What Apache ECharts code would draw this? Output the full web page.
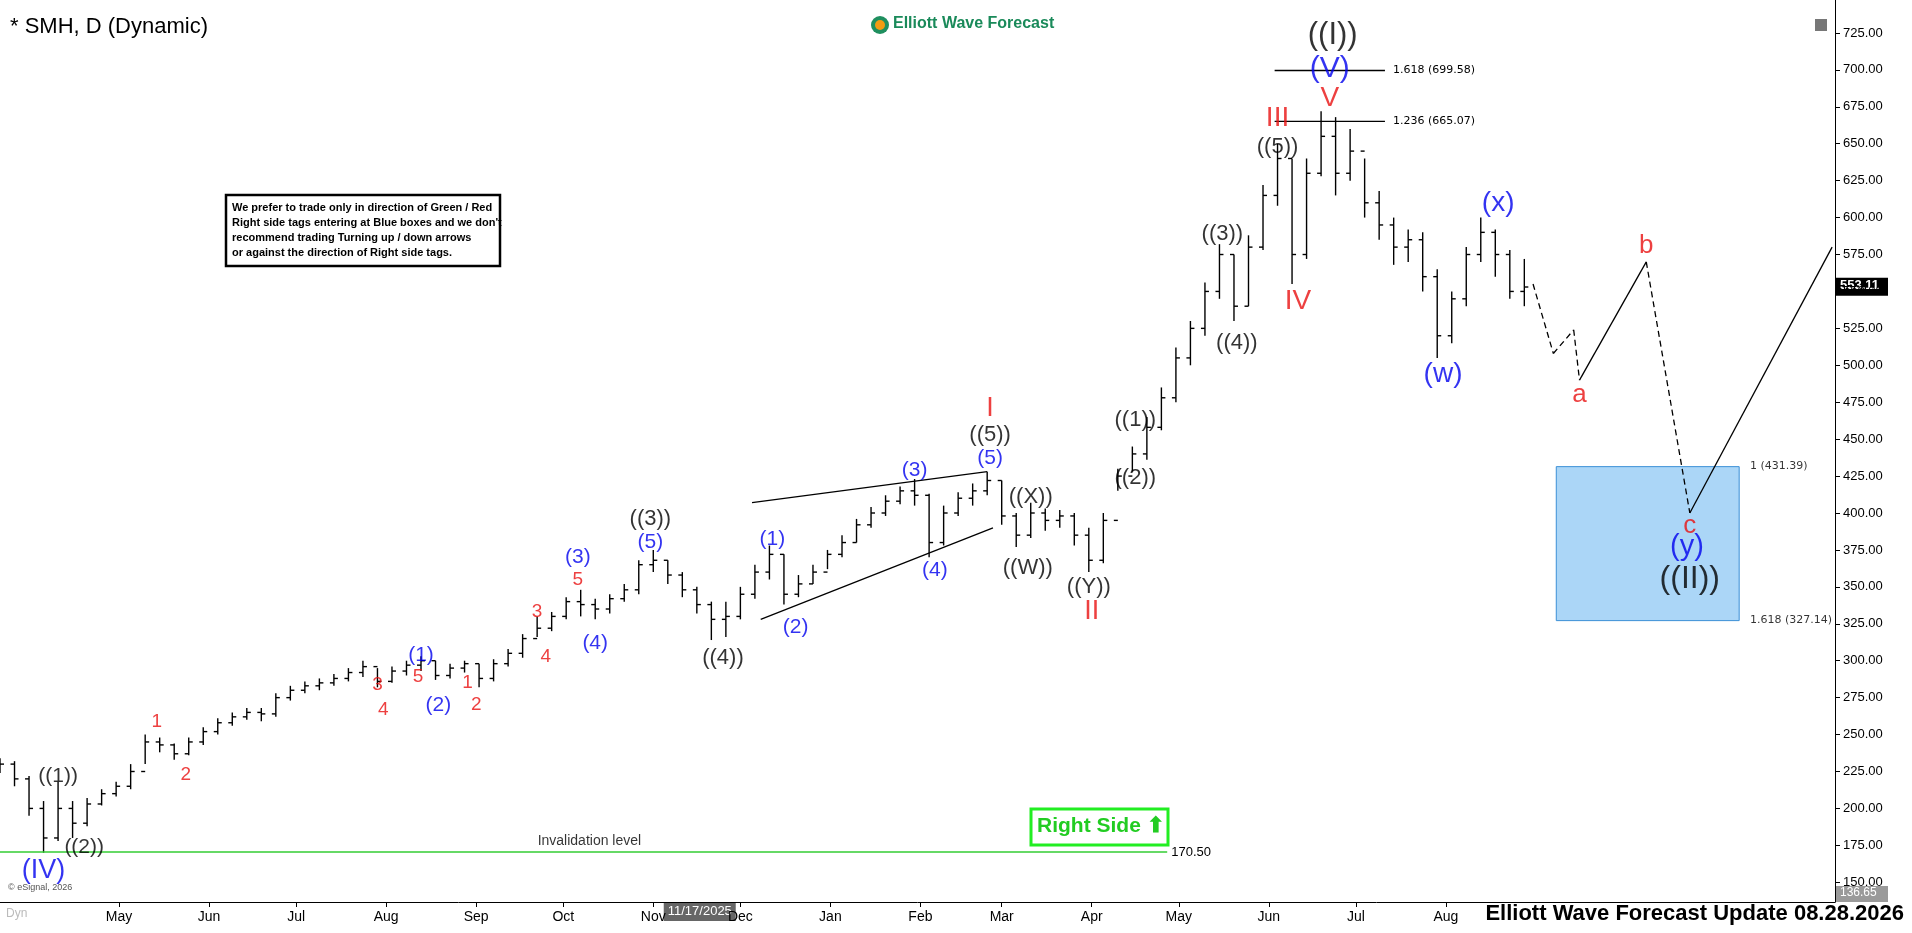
<!DOCTYPE html>
<html>
<head>
<meta charset="utf-8">
<script src="https://cdn.jsdelivr.net/npm/echarts@6/dist/echarts.min.js"></script>
<style>html,body{margin:0;padding:0;background:#fff}#chart{width:1912px;height:933px}</style>
</head>
<body>
<div id="chart"></div>
<script>
// bars every 5 days starting 2025-03-21
var startDate = '2025-03-21';
var closes = [230,220,200,180,200,190,203,210,215,225,
  245,243,237,245,252,258,262,265,264,275,
  280,283,285,288,292,296,286,293,297,300,
  290,295,298,288,298,305,315,322,330,340,
  338,335,342,348,365,368,358,348,338,328,
  330,345,360,372,345,352,360,372,380,392,
  400,408,415,412,380,400,410,415,422,398,
  385,400,395,398,385,368,395,425,440,458,
  478,505,525,550,575,540,580,615,640,575,
  630,655,630,645,610,595,580,585,560,520,
  545,575,590,575,550,553];
var highs = [234,232,222,205,218,205,207,213,218,230,
  250,248,244,248,255,261,265,268,268,278,
  283,286,288,291,295,300,295,296,300,303,
  300,298,300,298,301,308,318,330,333,343,
  348,342,345,352,368,375,368,360,350,340,
  340,350,365,378,372,358,365,375,385,396,
  404,412,418,423,413,405,414,420,428,422,
  400,407,403,402,400,390,400,430,445,465,
  485,512,530,556,582,575,588,622,650,640,
  640,672,668,660,640,618,600,592,590,565,
  550,580,600,592,578,572];
var lows = [224,215,195,170,178,180,188,202,208,213,
  230,238,233,236,243,250,256,260,259,262,
  273,278,280,283,286,289,282,285,290,293,
  287,288,292,282,286,296,302,316,320,328,
  330,328,332,340,345,360,352,343,332,314,
  316,328,342,355,338,343,352,362,370,380,
  390,398,406,405,370,378,398,405,412,392,
  377,383,388,390,378,360,366,415,428,436,
  456,475,500,520,545,530,540,578,608,555,
  572,628,615,625,600,585,568,570,550,505,
  515,540,570,560,545,540];
var lastPrice = 553.11;
var lowPrice = 136.65;
var yTicks = [150,175,200,225,250,275,300,325,350,375,400,425,450,475,500,525,550,575,600,625,650,675,700,725];
var monthTicks = ['2025-05-01','2025-06-01','2025-07-01','2025-08-01','2025-09-01','2025-10-01','2025-11-01','2025-12-01',
  '2026-01-01','2026-02-01','2026-03-01','2026-04-01','2026-05-01','2026-06-01','2026-07-01','2026-08-01'];
var monthNames = ['Jan','Feb','Mar','Apr','May','Jun','Jul','Aug','Sep','Oct','Nov','Dec'];

var BLK = '#000', BLU = '#0000ee', RED = '#e81010';
// [date, value, text, colour, size]
var waveLabels = [
  ['2025-04-05',158,'(IV)',BLU,27],
  ['2025-04-10',222,'((1))',BLK,21],
  ['2025-04-19',174,'((2))',BLK,21],
  ['2025-05-14',259,'1',RED,19],
  ['2025-05-24',223,'2',RED,19],
  ['2025-07-29',284,'3',RED,19],
  ['2025-07-31',267,'4',RED,19],
  ['2025-08-12',289,'5',RED,19],
  ['2025-08-13',304,'(1)',BLU,21],
  ['2025-08-19',270,'(2)',BLU,21],
  ['2025-08-29',285,'1',RED,19],
  ['2025-09-01',270,'2',RED,19],
  ['2025-09-22',333,'3',RED,19],
  ['2025-09-25',303,'4',RED,19],
  ['2025-10-06',355,'5',RED,19],
  ['2025-10-06',370,'(3)',BLU,21],
  ['2025-10-12',312,'(4)',BLU,21],
  ['2025-10-31',380,'(5)',BLU,21],
  ['2025-10-31',396,'((3))',BLK,22],
  ['2025-11-25',302,'((4))',BLK,22],
  ['2025-12-12',382,'(1)',BLU,21],
  ['2025-12-20',323,'(2)',BLU,21],
  ['2026-01-30',429,'(3)',BLU,21],
  ['2026-02-06',361,'(4)',BLU,21],
  ['2026-02-25',437,'(5)',BLU,21],
  ['2026-02-25',453,'((5))',BLK,22],
  ['2026-02-25',471,'I',RED,27],
  ['2026-03-11',411,'((X))',BLK,22],
  ['2026-03-10',363,'((W))',BLK,22],
  ['2026-03-31',350,'((Y))',BLK,22],
  ['2026-04-01',333,'II',RED,27],
  ['2026-04-16',463,'((1))',BLK,22],
  ['2026-04-16',424,'((2))',BLK,22],
  ['2026-05-16',589,'((3))',BLK,22],
  ['2026-05-21',515,'((4))',BLK,22],
  ['2026-06-04',648,'((5))',BLK,22],
  ['2026-06-04',667,'III',RED,28],
  ['2026-06-11',543,'IV',RED,28],
  ['2026-06-22',681,'V',RED,28],
  ['2026-06-22',701,'(V)',BLU,30],
  ['2026-06-23',723,'((I))',BLK,31],
  ['2026-07-31',494,'(w)',BLU,28],
  ['2026-08-19',610,'(x)',BLU,28],
  ['2026-09-16',480,'a',RED,26],
  ['2026-10-09',581,'b',RED,26],
  ['2026-10-24',391,'c',RED,26],
  ['2026-10-23',377,'(y)',BLU,29],
  ['2026-10-24',355,'((II))',BLK,32]
];
// projected path: [date, value, dashed-to-next]
var projection = [
  ['2026-08-31',555,true],['2026-09-07',508,true],['2026-09-14',524,true],['2026-09-16',490,false],
  ['2026-10-09',570,true],['2026-10-24',400,false],['2026-12-12',580,false]
];
var wedgeUpper = [['2025-12-05',407],['2026-02-24',428]];
var wedgeLower = [['2025-12-08',328],['2026-02-26',390]];
var fibTop = [['2026-06-03','2026-07-11',699.58,'1.618 (699.58)'],['2026-06-03','2026-07-11',665.07,'1.236 (665.07)']];
var blueBox = ['2026-09-08','2026-11-10',431.39,327.14];
var boxLabels = [['2026-11-12',431.39,'1 (431.39)'],['2026-11-12',327.14,'1.618 (327.14)']];
var invalidation = ['2025-03-21','2026-04-27',170.5];

var DAY = 86400000;
var t0 = +new Date(startDate + 'T00:00:00Z');
var bars = closes.map(function (c, i) {
  var o = i === 0 ? c : closes[i - 1];
  return [t0 + i * 5 * DAY, o, highs[i], lows[i], c];
});
function ts(s) { return +new Date(s + 'T00:00:00Z'); }

var series = [];
series.push({
  type: 'custom',
  data: bars,
  encode: { x: 0, y: [1, 2, 3, 4] },
  renderItem: function (params, api) {
    var x = api.value(0);
    var o = api.coord([x, api.value(1)]), h = api.coord([x, api.value(2)]);
    var l = api.coord([x, api.value(3)]), c = api.coord([x, api.value(4)]);
    var st = { stroke: '#000', lineWidth: 1.4 };
    return { type: 'group', children: [
      { type: 'line', shape: { x1: h[0], y1: h[1], x2: l[0], y2: l[1] }, style: st },
      { type: 'line', shape: { x1: o[0] - 4, y1: o[1], x2: o[0], y2: o[1] }, style: st },
      { type: 'line', shape: { x1: c[0], y1: c[1], x2: c[0] + 4, y2: c[1] }, style: st }
    ]};
  },
  markArea: {
    silent: true,
    itemStyle: { color: '#abd6f7', borderColor: '#3b8fd6', borderWidth: 1 },
    data: [[{ xAxis: ts(blueBox[0]), yAxis: blueBox[2] }, { xAxis: ts(blueBox[1]), yAxis: blueBox[3] }]]
  },
  z: 3
});
function seg(pts, dashed, color, width) {
  series.push({
    type: 'line', data: pts.map(function (p) { return [ts(p[0]), p[1]]; }),
    showSymbol: false, silent: true, z: 4,
    lineStyle: { color: color || '#000', width: width || 1.3, type: dashed ? [6, 4] : 'solid' }
  });
}
for (var i = 0; i < projection.length - 1; i++) {
  seg([projection[i], projection[i + 1]], projection[i][2]);
}
seg(wedgeUpper, false); seg(wedgeLower, false);
fibTop.forEach(function (f) {
  series.push({ type: 'line', showSymbol: false, silent: true, data: [[ts(f[0]), f[2]], [ts(f[1]), f[2]]],
    lineStyle: { color: '#000', width: 1.3 },
    endLabel: { show: true, formatter: f[3], fontFamily: 'DejaVu Sans', fontSize: 11, color: '#000', distance: 8 } });
});
series.push({ type: 'line', showSymbol: false, silent: true,
  data: [[ts(invalidation[0]), invalidation[2]], [ts(invalidation[1]), invalidation[2]]],
  lineStyle: { color: '#33cc33', width: 1.3 },
  endLabel: { show: true, formatter: '170.50', fontFamily: 'Liberation Sans', fontSize: 13, color: '#000', distance: 4 } });
series.push({ type: 'scatter', symbolSize: 0, silent: true, z: 6,
  data: [{ value: [ts('2025-10-10'), 178], label: { formatter: 'Invalidation level' } }].concat(
    boxLabels.map(function (b) { return { value: [ts(b[0]), b[1]], label: { formatter: b[2], position: 'right', fontFamily: 'DejaVu Sans', fontSize: 11 } }; })),
  label: { show: true, position: 'inside', color: '#000', fontFamily: 'Liberation Sans', fontSize: 14 } });
series.push({ type: 'scatter', symbolSize: 0, silent: true, z: 6,
  data: waveLabels.map(function (w) {
    return { value: [ts(w[0]), w[1]], label: { formatter: w[2], color: w[3], fontSize: w[4] } };
  }),
  label: { show: true, position: 'inside', fontFamily: 'Liberation Sans' } });

var chart = echarts.init(document.getElementById('chart'));
chart.setOption({
  animation: false,
  backgroundColor: '#fff',
  grid: { left: 0, right: 77, top: 0, bottom: 31 },
  xAxis: {
    type: 'value', min: ts('2025-03-21'), max: ts('2026-12-13'),
    axisLine: { lineStyle: { color: '#000' } },
    axisTick: { show: true, customValues: monthTicks.map(ts), lineStyle: { color: '#000' } },
    splitLine: { show: false },
    axisLabel: { customValues: monthTicks.map(ts), color: '#000', fontFamily: 'Liberation Sans', fontSize: 14, margin: 8,
      formatter: function (v) { return monthNames[new Date(v).getUTCMonth()]; } }
  },
  yAxis: {
    type: 'value', position: 'right', min: lowPrice, max: 747.3,
    axisLine: { show: true, lineStyle: { color: '#000' } },
    axisTick: { show: true, customValues: yTicks, lineStyle: { color: '#000' } },
    splitLine: { show: false },
    axisLabel: { customValues: yTicks, color: '#000', fontFamily: 'Liberation Sans', fontSize: 13,
      formatter: function (v) { return v.toFixed(2); } }
  },
  series: series
});

var yLast = chart.convertToPixel({ yAxisIndex: 0 }, lastPrice);
var yLow = chart.convertToPixel({ yAxisIndex: 0 }, lowPrice);
var xCursor = chart.convertToPixel({ xAxisIndex: 0 }, ts('2025-11-17'));
var textLines = ['We prefer to trade only in direction of Green / Red', "Right side tags entering at Blue boxes and we don't",
  'recommend trading Turning up / down arrows', 'or against the direction of Right side tags.'];
chart.setOption({ graphic: [
  { type: 'text', left: 10, top: 16, style: { text: '* SMH, D (Dynamic)', font: '22px "Liberation Sans"', fill: '#000' } },
  { type: 'circle', shape: { cx: 880, cy: 25, r: 9 }, style: { fill: '#1f8f5f' } },
  { type: 'circle', shape: { cx: 880, cy: 25, r: 5 }, style: { fill: '#f39c12' } },
  { type: 'text', left: 893, top: 16, style: { text: 'Elliott Wave Forecast', font: 'bold 16px "Liberation Sans"', fill: '#1a8a5a' } },
  { type: 'rect', shape: { x: 1815, y: 19, width: 12, height: 12 }, style: { fill: '#777' } },
  { type: 'rect', shape: { x: 226, y: 195, width: 274, height: 71 }, style: { fill: '#fff', stroke: '#000', lineWidth: 2.5 } },
  { type: 'text', left: 232, top: 200, style: { text: textLines.join('\n'), font: 'bold 11px "Liberation Sans"', lineHeight: 15, fill: '#000' } },
  { type: 'rect', shape: { x: 1031, y: 809, width: 137, height: 36 }, style: { fill: '#fff', stroke: '#22ee22', lineWidth: 3 } },
  { type: 'text', left: 1037, top: 816, style: { text: 'Right Side \u2B06', font: 'bold 21px "Liberation Sans"', fill: '#22cc22' } },
  { type: 'rect', shape: { x: 1836, y: yLast - 9, width: 52, height: 18 }, style: { fill: '#000' } },
  { type: 'text', left: 1840, top: yLast - 8, style: { text: lastPrice.toFixed(2), font: 'bold 13px "Liberation Sans"', fill: '#fff' } },
  { type: 'rect', shape: { x: 1836, y: yLow - 16, width: 52, height: 16 }, style: { fill: '#9a9a9a' } },
  { type: 'text', left: 1840, top: yLow - 15, style: { text: lowPrice.toFixed(2), font: '12px "Liberation Sans"', fill: '#fff' } },
  { type: 'rect', shape: { x: xCursor - 36, y: 903, width: 72, height: 18 }, style: { fill: '#666' } },
  { type: 'text', left: xCursor - 32, top: 905, style: { text: '11/17/2025', font: '13px "Liberation Sans"', fill: '#fff' } },
  { type: 'text', left: 8, top: 883, style: { text: '\u00A9 eSignal, 2026', font: '9px "Liberation Sans"', fill: '#555' } },
  { type: 'text', left: 6, top: 908, style: { text: 'Dyn', font: '12px "Liberation Sans"', fill: '#bbb' } },
  { type: 'text', right: 8, top: 903, style: { text: 'Elliott Wave Forecast Update 08.28.2026', font: 'bold 22px "Liberation Sans"', fill: '#000' } }
]});
</script>
</body>
</html>
